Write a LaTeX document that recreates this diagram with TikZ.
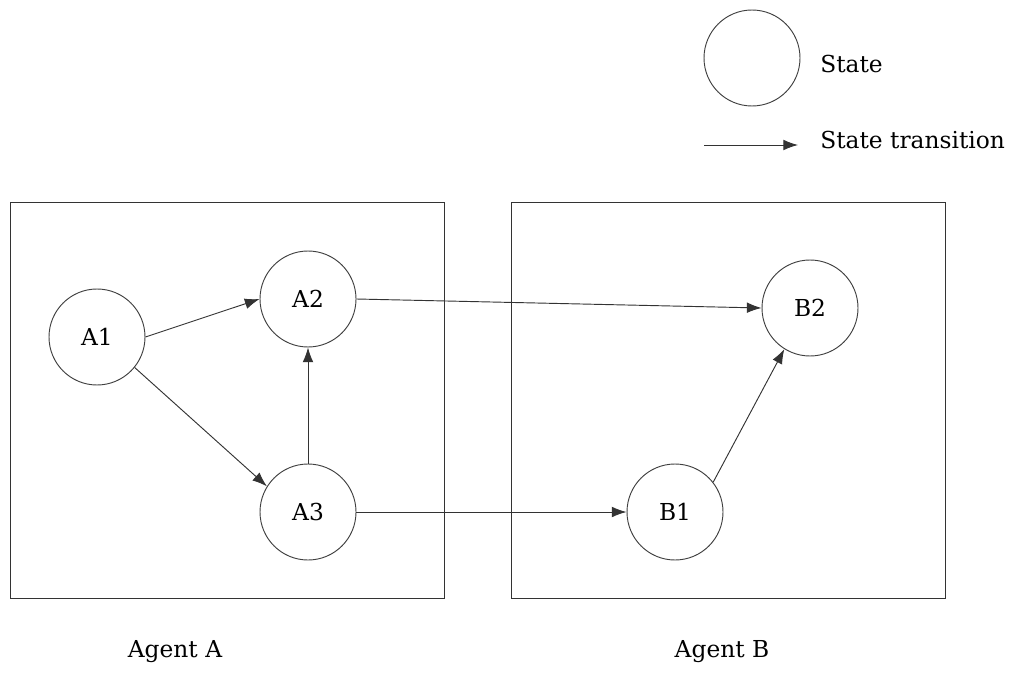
\documentclass[tikz,border=0pt]{standalone}
\usepackage{fontspec}
\setmainfont{DejaVu Serif}
\usetikzlibrary{arrows.meta,positioning}
\tikzset{
    cirwht/.style={circle,draw=black!75,line width=0.7pt,minimum size=72pt,inner sep=0pt,align=center,text=black,fill=white,font=\fontsize{17.5}{20}\selectfont},
    recwht/.style={draw=black!80,line width=0.7pt,minimum width=325.5pt,minimum height=297pt,inner sep=0pt,fill=none},
    lbltxt/.style={draw=none,inner sep=0pt,text=black,font=\fontsize{17.5}{20}\selectfont},
    arrowfwd/.style={draw=black!80,line width=0.7pt,-{Latex[length=11pt,width=8pt]}}
}
\begin{document}
\begin{tikzpicture}[x=0.75pt,y=-0.75pt]
        \useasboundingbox (0,0) rectangle (1016,695);
        % agent boxes
        \node[recwht] (boxa) at (227,400) {};
        \node[recwht] (boxb) at (728,400) {};
        \node[lbltxt] (lbla) at (175,652) {Agent A};
        \node[lbltxt] (lblb) at (722,652) {Agent B};

        % states
        \node[cirwht] (a1) at (97,337) {A1};
        \node[cirwht] (a2) at (308,299) {A2};
        \node[cirwht] (a3) at (308,512) {A3};
        \node[cirwht] (b1) at (675,512) {B1};
        \node[cirwht] (b2) at (810,308) {B2};

        % legend
        \node[cirwht] (lgst) at (752,58) {};
        \node[lbltxt, anchor=west] (lgsttxt) at (820,64) {State};
        \coordinate (lgtrs) at (704,145);
        \coordinate (lgtre) at (798,145);
        \node[lbltxt, anchor=west] (lgtrtxt) at (820,140) {State transition};

        \begin{scope}
            \draw[arrowfwd] (a1.east) -- (a2.west);
            \draw[arrowfwd] (a1.-39) -- (a3.148);
            \draw[arrowfwd] (a3) -- (a2);
            \draw[arrowfwd] (a2.east) -- (b2.west);
            \draw[arrowfwd] (a3) -- (b1);
            \draw[arrowfwd] (b1.38) -- (b2.238);
            \draw[arrowfwd] (lgtrs) -- (lgtre);
        \end{scope}
\end{tikzpicture}
\end{document}
